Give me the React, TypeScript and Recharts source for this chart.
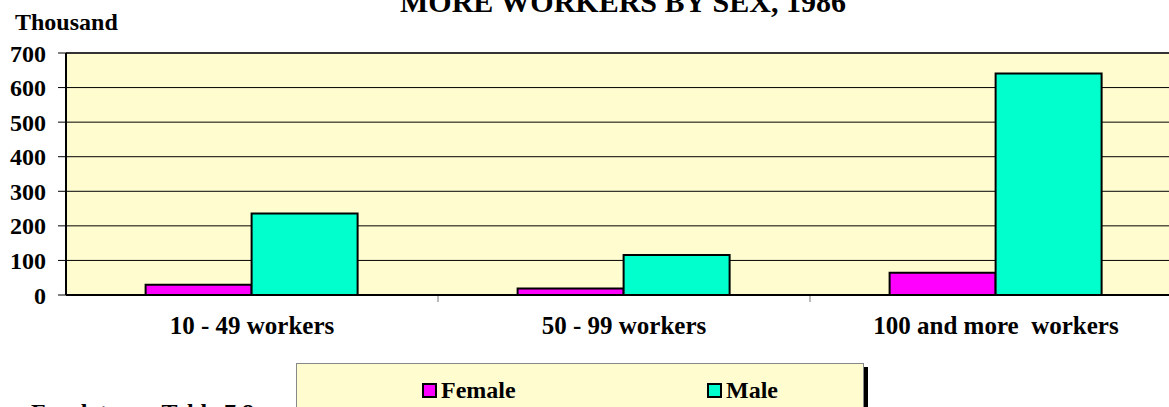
import { Bar, BarChart, CartesianGrid, ReferenceLine, XAxis, YAxis } from "recharts";

const categories = ["10 - 49 workers", "50 - 99 workers", "100 and more  workers"];
const femaleValues = [30, 19, 64];
const maleValues = [236, 116, 641];
const yTicks = [0, 100, 200, 300, 400, 500, 600, 700];

const series = [
  { key: "female", name: "Female", color: "#FF00FF" },
  { key: "male", name: "Male", color: "#00FFCC" },
];

const rows = categories.map((c, i) => ({
  category: c,
  female: femaleValues[i],
  male: maleValues[i],
}));

const FONT = "'Liberation Serif', 'Times New Roman', serif";

function CategoryTick(props: any) {
  const { x, y, payload } = props;
  const half = payload?.offset ?? 0;
  return (
    <g>
      <line x1={x + half} x2={x + half} y1={y + 1} y2={y + 7} stroke="#777" strokeWidth={1} />
      <text
        x={x}
        y={y + 39}
        textAnchor="middle"
        fontFamily={FONT}
        fontWeight="bold"
        fontSize={25}
        fill="#000"
        style={{ whiteSpace: "pre" }}
      >
        {payload.value}
      </text>
    </g>
  );
}

export default function App() {
  return (
    <div
      style={{
        position: "absolute",
        left: 0,
        top: 0,
        width: 1169,
        height: 407,
        overflow: "hidden",
        background: "#fff",
        fontFamily: FONT,
      }}
    >
      <BarChart
        width={1200}
        height={407}
        data={rows}
        margin={{ top: 53, right: 18, bottom: 0, left: 0 }}
        barCategoryGap="21.4%"
        barGap={0}
      >
        <CartesianGrid vertical={false} stroke="#000" fill="#FFFDD0" fillOpacity={1} />
        <XAxis
          dataKey="category"
          height={112}
          axisLine={{ stroke: "#000", strokeWidth: 2 }}
          tickLine={false}
          tickSize={0}
          tickMargin={0}
          interval={0}
          tick={<CategoryTick />}
        />
        <YAxis
          width={66}
          domain={[0, 700]}
          ticks={yTicks}
          interval={0}
          axisLine={{ stroke: "#000", strokeWidth: 2 }}
          tickLine={{ stroke: "#000" }}
          tickSize={8}
          tickMargin={12}
          tick={{ fontFamily: FONT, fontWeight: "bold", fontSize: 24, fill: "#000" }}
        />
        <ReferenceLine y={700} stroke="#333" strokeWidth={2} />
        {series.map((s) => (
          <Bar
            key={s.key}
            dataKey={s.key}
            name={s.name}
            fill={s.color}
            stroke="#000"
            strokeWidth={2}
            isAnimationActive={false}
          />
        ))}
      </BarChart>

      <svg
        width={1169}
        height={407}
        style={{ position: "absolute", left: 0, top: 0, pointerEvents: "none" }}
      >
        <text x={623} y={12} textAnchor="middle" fontFamily={FONT} fontWeight="bold" fontSize={30} fill="#000">
          MORE WORKERS BY SEX, 1986
        </text>
        <text x={15} y={30} fontFamily={FONT} fontWeight="bold" fontSize={24} fill="#000">
          Thousand
        </text>
        <text x={31} y={420} fontFamily={FONT} fontWeight="bold" fontSize={24} fill="#000">
          For data see Table 7.8
        </text>
      </svg>

      <div
        style={{
          position: "absolute",
          left: 296,
          top: 363,
          width: 566,
          height: 60,
          background: "#FFFDD0",
          border: "1px solid #888",
          boxShadow: "4px 4px 0 #000",
        }}
      >
        {series.map((s, i) => (
          <div
            key={s.key}
            style={{
              position: "absolute",
              left: i === 0 ? 125 : 410,
              top: 16,
              display: "flex",
              alignItems: "center",
              fontWeight: "bold",
              fontSize: 24,
              lineHeight: "20px",
              color: "#000",
            }}
          >
            <span
              style={{
                display: "inline-block",
                width: 11,
                height: 11,
                background: s.color,
                border: "2px solid #000",
                marginRight: 4,
              }}
            />
            {s.name}
          </div>
        ))}
      </div>
    </div>
  );
}
